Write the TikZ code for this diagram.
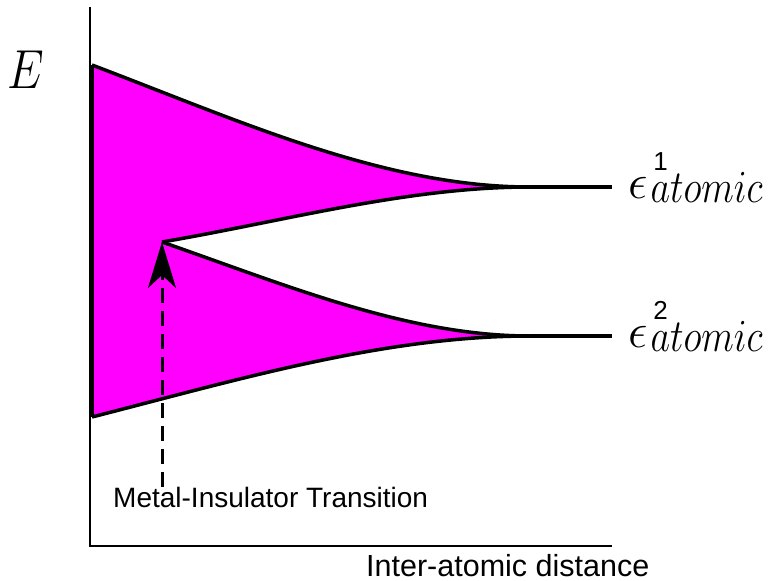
\RequirePackage{fix-cm}
\documentclass[tikz,border=0pt]{standalone}
\usepackage{graphicx}
\usepackage{fontspec}
\newfontfamily\lsans{Liberation Sans}
\usetikzlibrary{arrows.meta}
\definecolor{bandmag}{RGB}{255,0,255}
\newcommand{\atomiclabel}[1]{%
  {\fontsize{49}{49}\selectfont$\epsilon$}\hspace{3.1pt}%
  \rlap{\hspace{2.8pt}\raisebox{28pt}{\fontsize{26}{26}\selectfont\lsans #1}}%
  \raisebox{-4pt}{\scalebox{0.825}[1]{\fontsize{46}{46}\selectfont$atomic$}}}
\begin{document}
\begin{tikzpicture}[x=1pt,y=-1pt,
  curve/.style={line width=3.5pt, line join=round},
  axisline/.style={line width=2pt},
  lbl/.style={inner sep=0pt, anchor=base west},
  mitarrow/.style={line width=3pt, dash pattern=on 15pt off 8pt,
    -{Stealth[length=46pt,width=28pt,inset=13pt]}}]
\useasboundingbox (0,0) rectangle (769,581);
% key points
\coordinate (o) at (90,547);
\coordinate (ytop) at (90,7);
\coordinate (xend) at (612,546);
\coordinate (a1) at (92,65);
\coordinate (t1) at (530,187);
\coordinate (cusp) at (162,242);
\coordinate (t2) at (530,336);
\coordinate (b2) at (92,417);
\coordinate (e1) at (612,187);
\coordinate (e2) at (612,336);
\coordinate (arrbase) at (162,487);
% bands
\fill[bandmag] (a1) .. controls (238,120.3) and (384,187) .. (t1)
  .. controls (407.3,187) and (284.7,221.1) .. (cusp)
  .. controls (284.7,284.6) and (407.3,336) .. (t2)
  .. controls (384,336) and (238,379.7) .. (b2) -- cycle;
\draw[curve] (b2) -- (a1);
\draw[curve] (a1) .. controls (238,120.3) and (384,187) .. (t1);
\draw[curve] (cusp) .. controls (284.7,221.1) and (407.3,187) .. (t1);
\draw[curve] (cusp) .. controls (284.7,284.6) and (407.3,336) .. (t2);
\draw[curve] (b2) .. controls (238,379.7) and (384,336) .. (t2);
\draw[curve] (t1) -- (e1);
\draw[curve] (t2) -- (e2);
% axes
\draw[axisline] (ytop) -- (o);
\draw[axisline] (89,546) -- (xend);
% arrow
\draw[mitarrow] (arrbase) -- (cusp);
% labels
\node[lbl] (E) at (7,88) {\scalebox{0.85}[1]{\fontsize{55}{55}\selectfont$E$}};
\node[lbl] (lev1) at (628,198) {\atomiclabel{1}};
\node[lbl] (lev2) at (628,347) {\atomiclabel{2}};
\node[lbl] (mit) at (113,507) {\fontsize{28}{28}\selectfont\lsans Metal-Insulator Transition};
\node[lbl] (xlab) at (366,576) {\fontsize{30.5}{30.5}\selectfont\lsans Inter-atomic distance};
\end{tikzpicture}
\end{document}
